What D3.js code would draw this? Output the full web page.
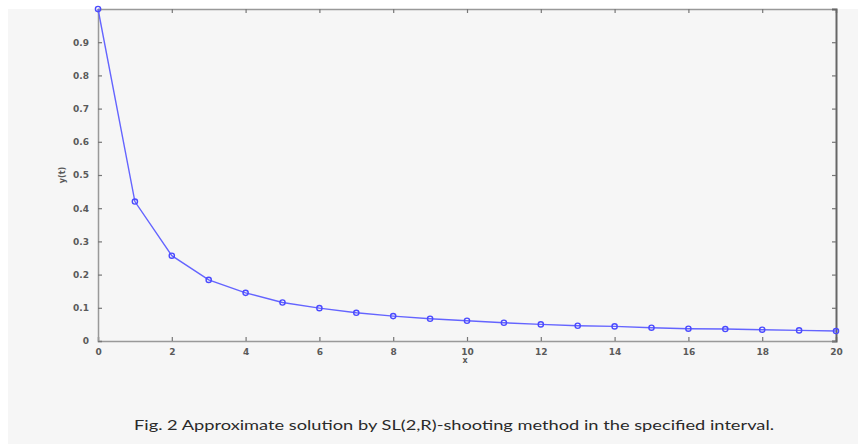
<!DOCTYPE html>
<html>
<head>
<meta charset="utf-8">
<script src="https://cdn.jsdelivr.net/npm/d3@7"></script>
<style>
  body { margin: 0; background: #fff; }
  svg { display: block; }
</style>
</head>
<body>
<svg id="chart" width="858" height="444"></svg>
<script>
// data
const xs = [0, 1, 2, 3, 4, 5, 6, 7, 8, 9, 10, 11, 12, 13, 14, 15, 16, 17, 18, 19, 20];
const ys = [1.0, 0.42, 0.257, 0.184, 0.145, 0.116, 0.099, 0.085, 0.075, 0.067, 0.061,
            0.055, 0.050, 0.046, 0.044, 0.040, 0.037, 0.036, 0.034, 0.032, 0.030];
const xTicks = [0, 2, 4, 6, 8, 10, 12, 14, 16, 18, 20];
const yTicks = [0, 0.1, 0.2, 0.3, 0.4, 0.5, 0.6, 0.7, 0.8, 0.9];
const caption = 'Fig. 2 Approximate solution by SL(2,R)-shooting method in the specified interval.';

const svg = d3.select('#chart');

// gray figure background
svg.append('rect').attr('x', 8).attr('y', 9).attr('width', 850).attr('height', 435).attr('fill', '#f6f6f6');

const plotL = 98, plotR = 836, plotT = 9, plotB = 341;
const x = d3.scaleLinear().domain([0, 20]).range([plotL, plotR]);
const y = d3.scaleLinear().domain([0, 1]).range([plotB, plotT]);

const tickColor = '#777';
const labelColor = '#5a5a5a';

// bottom axis, ticks inward
const gx = svg.append('g').attr('transform', `translate(0,${plotB})`)
    .call(d3.axisBottom(x).tickValues(xTicks).tickSize(-4).tickPadding(8).tickFormat(d3.format('d')));
// top axis
const gt = svg.append('g').attr('transform', `translate(0,${plotT})`)
    .call(d3.axisTop(x).tickValues(xTicks).tickSize(-4).tickFormat(''));
// left axis
const gy = svg.append('g').attr('transform', `translate(${plotL},0)`)
    .call(d3.axisLeft(y).tickValues(yTicks).tickSize(-4).tickPadding(9).tickFormat(d => d === 0 ? '0' : d3.format('.1f')(d)));
// right axis
const gr = svg.append('g').attr('transform', `translate(${plotR},0)`)
    .call(d3.axisRight(y).tickValues(yTicks).tickSize(-4).tickFormat(''));

[gx, gt, gy, gr].forEach(g => {
    g.select('.domain').attr('stroke', '#999').attr('stroke-width', 1.5);
    g.selectAll('.tick line').attr('stroke', tickColor).attr('stroke-width', 1.2);
    g.selectAll('.tick text')
        .attr('fill', labelColor)
        .style('font-family', 'DejaVu Sans, sans-serif')
        .style('font-size', '9px')
        .style('font-weight', 'bold');
});
gr.select('.domain').attr('stroke', '#666').attr('stroke-width', 2);

// axis labels
svg.append('text')
    .attr('x', x(10) - 2).attr('y', 363)
    .attr('text-anchor', 'middle')
    .attr('fill', labelColor)
    .style('font-family', 'DejaVu Sans, sans-serif').style('font-size', '8px').style('font-weight', 'bold')
    .text('x');
svg.append('text')
    .attr('transform', `translate(65,${y(0.5)}) rotate(-90)`)
    .attr('text-anchor', 'middle')
    .attr('fill', labelColor)
    .style('font-family', 'DejaVu Sans, sans-serif').style('font-size', '8px').style('font-weight', 'bold')
    .text('y(t)');

// the curve
const data = xs.map((v, i) => ({ x: v, y: ys[i] }));
const line = d3.line().x(d => x(d.x)).y(d => y(d.y));
svg.append('path')
    .datum(data)
    .attr('d', line)
    .attr('fill', 'none')
    .attr('stroke', '#6464ff')
    .attr('stroke-width', 1.4);
svg.selectAll('circle.pt')
    .data(data)
    .enter().append('circle')
    .attr('class', 'pt')
    .attr('cx', d => x(d.x))
    .attr('cy', d => y(d.y))
    .attr('r', 2.6)
    .attr('fill', 'none')
    .attr('stroke', '#4a4aff')
    .attr('stroke-width', 1.4);

// caption
svg.append('text')
    .attr('x', 134).attr('y', 430)
    .attr('fill', '#2a2a2a')
    .attr('textLength', 640)
    .attr('lengthAdjust', 'spacingAndGlyphs')
    .style('font-family', 'Lato, sans-serif')
    .style('font-size', '13px')
    .text(caption);
</script>
</body>
</html>
